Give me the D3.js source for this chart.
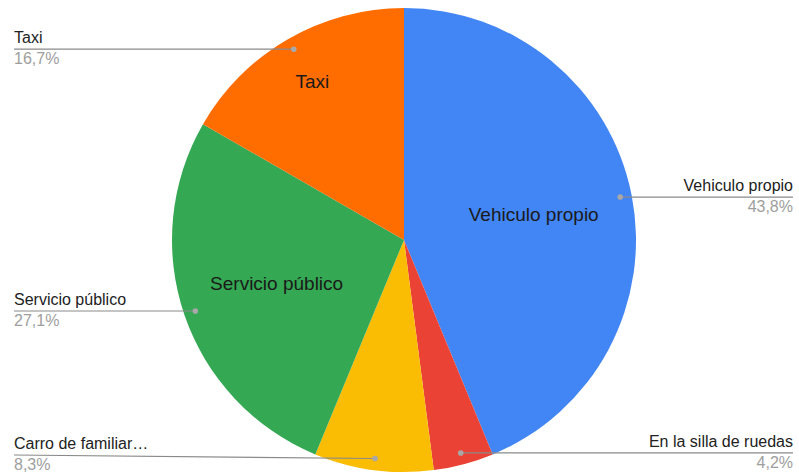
<!DOCTYPE html>
<html>
<head>
<meta charset="utf-8">
<script src="https://cdn.jsdelivr.net/npm/d3@7/dist/d3.min.js"></script>
<style>
  html, body { margin: 0; padding: 0; background: #fff; }
  svg { display: block; font-family: "Liberation Sans", Arial, sans-serif; }
</style>
</head>
<body>
<svg id="chart" width="799" height="475"></svg>
<script>
// Medio de transporte utilizado (porcentaje)
const categories = ["Vehiculo propio", "En la silla de ruedas", "Carro de familiar…", "Servicio público", "Taxi"];
const innerNames = ["Vehiculo propio", "", "", "Servicio público", "Taxi"];
const values = [43.8, 4.2, 8.3, 27.1, 16.7];
const percentLabels = ["43,8%", "4,2%", "8,3%", "27,1%", "16,7%"];
const colors = ["#4285f4", "#ea4335", "#fbbc04", "#34a853", "#ff6d01"];

const width = 799, height = 475;
const cx = 404, cy = 240, R = 232;
const innerLabelRadius = [0.57, 0.57, 0.57, 0.58, 0.79];

const svg = d3.select("#chart");
const g = svg.append("g").attr("transform", `translate(${cx},${cy})`);

const pie = d3.pie().sort(null).value(d => d.v);
const data = categories.map((c, i) => ({ name: c, inner: innerNames[i], v: values[i], pct: percentLabels[i], color: colors[i], lr: innerLabelRadius[i] }));
const arcs = pie(data);

const arc = d3.arc().innerRadius(0).outerRadius(R);

g.selectAll("path.slice")
  .data(arcs)
  .join("path")
  .attr("class", "slice")
  .attr("d", arc)
  .attr("fill", d => d.data.color);

// labels inside slices
g.selectAll("text.inner")
  .data(arcs.filter(d => d.data.inner))
  .join("text")
  .attr("class", "inner")
  .attr("x", d => d3.arc().innerRadius(R * d.data.lr).outerRadius(R * d.data.lr).centroid(d)[0])
  .attr("y", d => d3.arc().innerRadius(R * d.data.lr).outerRadius(R * d.data.lr).centroid(d)[1])
  .attr("dy", "0.35em")
  .attr("text-anchor", "middle")
  .attr("font-size", 19)
  .attr("fill", "#1a1a1a")
  .text(d => d.data.inner);

// outside labels with leader lines
const dotArc = d3.arc().innerRadius(R * 0.95).outerRadius(R * 0.95);
const leftX = 14 - cx, rightX = 793 - cx;
const maxLineY = 455 - cy;

const outer = svg.append("g").attr("transform", `translate(${cx},${cy})`);
arcs.forEach(d => {
  const [px, py] = dotArc.centroid(d);
  const mid = (d.startAngle + d.endAngle) / 2;
  const right = mid < Math.PI;
  const ly = Math.min(py, maxLineY);
  const ex = right ? rightX : leftX;

  outer.append("line")
    .attr("x1", px).attr("y1", py)
    .attr("x2", ex).attr("y2", ly)
    .attr("stroke", "#8a8a8a")
    .attr("stroke-width", 1.2);

  outer.append("circle")
    .attr("cx", px).attr("cy", py).attr("r", 2.8)
    .attr("fill", "#a8a8a8");

  outer.append("text")
    .attr("x", ex).attr("y", ly - 6)
    .attr("text-anchor", right ? "end" : "start")
    .attr("font-size", 16)
    .attr("fill", "#222")
    .text(d.data.name);

  outer.append("text")
    .attr("x", ex).attr("y", ly + 15)
    .attr("text-anchor", right ? "end" : "start")
    .attr("font-size", 16)
    .attr("fill", "#9e9e9e")
    .text(d.data.pct);
});
</script>
</body>
</html>
